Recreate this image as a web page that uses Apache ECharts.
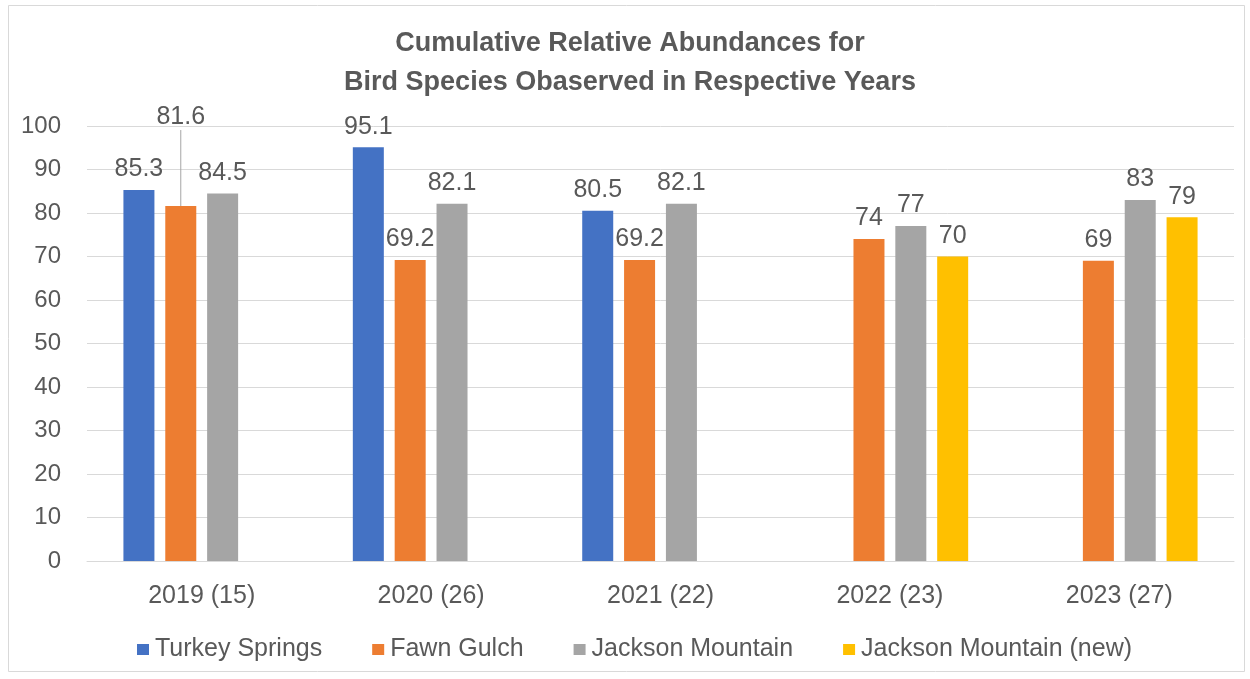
<!DOCTYPE html>
<html>
<head>
<meta charset="utf-8">
<script src="https://cdn.jsdelivr.net/npm/echarts@6/dist/echarts.min.js"></script>
<style>
  html, body { margin: 0; padding: 0; background: #fff; }
  #chart { width: 1250px; height: 679px; }
</style>
</head>
<body>
<div id="chart"></div>
<script>
// data
const years = ["2019 (15)", "2020 (26)", "2021 (22)", "2022 (23)", "2023 (27)"];
const turkeySprings = [85.3, 95.1, 80.5, null, null];
const fawnGulch = [81.6, 69.2, 69.2, 74, 69];
const jacksonMountain = [84.5, 82.1, 82.1, 77, 83];
const jacksonMountainNew = [null, null, null, 70, 79];
const yTicks = [0, 100, 10]; // min, max, step

const textColor = "#595959";
const font = "'Liberation Sans', Arial, sans-serif";

const chart = echarts.init(document.getElementById("chart"));

const makeSeries = (name, data, color, extra) => ({
  name,
  type: "bar",
  data,
  barWidth: 31,
  barGap: "35%",
  itemStyle: { color },
  label: {
    show: true,
    position: "top",
    distance: 8,
    color: textColor,
    fontSize: 25,
    fontFamily: font
  },
  ...extra
});

// 2019 Fawn Gulch label sits higher, with a leader line
const fawnData = fawnGulch.map((v, i) =>
  i === 0 ? { value: v, labelLine: { show: true, lineStyle: { color: "#A6A6A6", width: 1 } } } : v
);

chart.setOption({
  backgroundColor: "#fff",
  animation: false,
  graphic: [{
    type: "rect",
    shape: { x: 8.5, y: 5.5, width: 1236, height: 666 },
    style: { fill: "none", stroke: "#D9D9D9", lineWidth: 1 },
    silent: true
  }],
  title: {
    text: "Cumulative Relative Abundances for\nBird Species Obaserved in Respective Years",
    left: 630,
    top: 24,
    textAlign: "center",
    padding: 0,
    textStyle: {
      color: textColor,
      fontSize: 27,
      fontWeight: "bold",
      fontFamily: font,
      lineHeight: 39
    }
  },
  grid: { left: 87, right: 16, top: 126, bottom: 118 },
  legend: {
    top: 632,
    left: 132,
    itemWidth: 12,
    itemHeight: 11,
    itemGap: 50,
    icon: "rect",
    textStyle: { color: textColor, fontSize: 25, fontFamily: font, padding: [0, 0, 0, 1] }
  },
  xAxis: {
    type: "category",
    data: years,
    axisLine: { lineStyle: { color: "#D9D9D9" } },
    axisTick: { show: false },
    axisLabel: { color: textColor, fontSize: 25, fontFamily: font, margin: 23 }
  },
  yAxis: {
    type: "value",
    min: yTicks[0],
    max: yTicks[1],
    interval: yTicks[2],
    axisLine: { show: false },
    axisTick: { show: false },
    axisLabel: { color: textColor, fontSize: 24, fontFamily: font, margin: 26 },
    splitLine: { lineStyle: { color: "#D9D9D9" } }
  },
  series: [
    makeSeries("Turkey Springs", turkeySprings, "#4472C4"),
    makeSeries("Fawn Gulch", fawnData, "#ED7D31", {
      labelLayout: (p) => (p.dataIndex === 0 ? { dy: -68 } : {})
    }),
    makeSeries("Jackson Mountain", jacksonMountain, "#A5A5A5"),
    makeSeries("Jackson Mountain (new)", jacksonMountainNew, "#FFC000")
  ]
});
</script>
</body>
</html>
